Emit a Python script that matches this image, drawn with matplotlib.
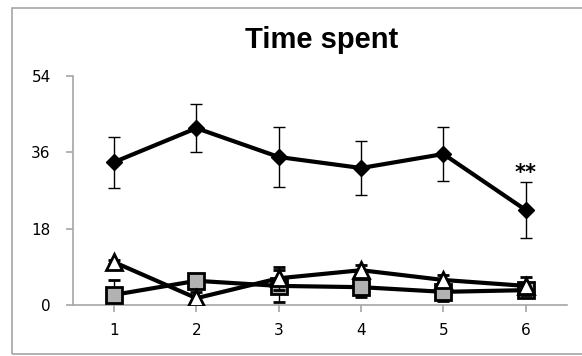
import matplotlib
matplotlib.use("Agg")
import matplotlib.pyplot as plt
from matplotlib.patches import Rectangle

# data
days = [1, 2, 3, 4, 5, 6]
diamond_mean = [33.7, 41.7, 34.9, 32.3, 35.6, 22.4]
diamond_err = [6.0, 5.7, 7.0, 6.4, 6.3, 6.7]
square_mean = [2.4, 5.7, 4.5, 4.2, 3.1, 3.5]
square_err = [3.5, 1.0, 3.8, 2.3, 2.1, 1.0]
triangle_mean = [10.1, 1.6, 6.3, 8.2, 5.9, 4.5]
triangle_err = [0.5, 1.4, 2.7, 1.2, 1.2, 2.1]
yticks = [0, 18, 36, 54]
title = "Time spent"
star_label = "**"

fig = plt.figure(figsize=(5.82, 3.56), dpi=100)
ax = fig.add_axes([0.1254, 0.1433, 0.8486, 0.6432])

# outer chart border
fig.patches.append(Rectangle((12 / 582, 2 / 356), 1.0, 346 / 356,
                             transform=fig.transFigure, fill=False,
                             edgecolor='#a6a6a6', linewidth=1.2))

err_kw = dict(ecolor='black', elinewidth=1, capsize=4, capthick=1)
ax.errorbar(days, diamond_mean, yerr=diamond_err, color='black', lw=3,
            marker='D', markersize=8, markerfacecolor='black',
            markeredgecolor='black', zorder=3, **err_kw)
ax.errorbar(days, square_mean, yerr=square_err, color='black', lw=3,
            marker='s', markersize=11, markerfacecolor='#b2b2b2',
            markeredgecolor='black', markeredgewidth=2, zorder=4, **err_kw)
ax.errorbar(days, triangle_mean, yerr=triangle_err, color='black', lw=3,
            marker='^', markersize=11, markerfacecolor='white',
            markeredgecolor='black', markeredgewidth=2, zorder=5, **err_kw)

ax.text(6, 31.2, star_label, ha='center', va='center', fontsize=15,
        fontweight='bold', family='DejaVu Sans')

ax.set_xlim(0.5, 6.5)
ax.set_ylim(0, 54)
ax.set_xticks(days)
ax.set_yticks(yticks)
for side in ['top', 'right']:
    ax.spines[side].set_visible(False)
for side in ['left', 'bottom']:
    ax.spines[side].set_color('#a6a6a6')
    ax.spines[side].set_linewidth(1.2)
ax.spines['bottom'].set_zorder(2)
ax.tick_params(axis='y', direction='out', length=5, color='#a6a6a6',
               width=1.2, pad=11, labelsize=11)
ax.tick_params(axis='x', direction='out', length=5, color='#a6a6a6',
               width=1.2, pad=8, labelsize=11)
ax.set_clip_on(False)

fig.text(0.553, 0.887, title, ha='center', va='center', fontsize=21,
         fontweight='bold', family='Liberation Sans')

fig.savefig('out.png', dpi=100)
